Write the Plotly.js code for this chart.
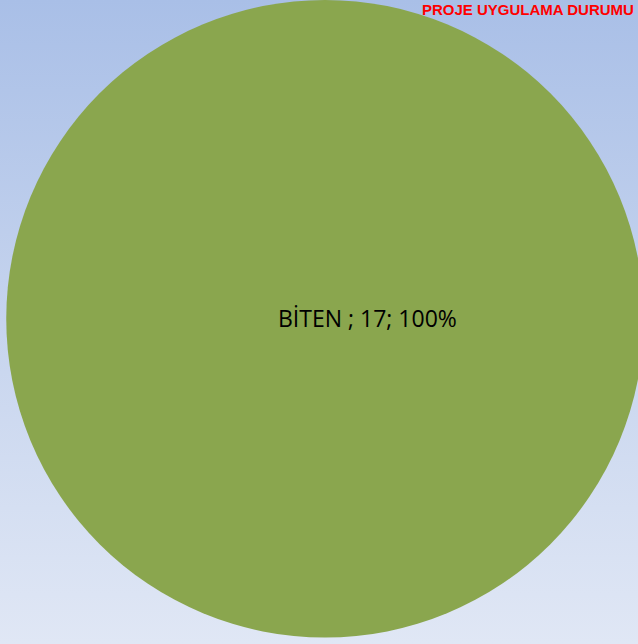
<!DOCTYPE html>
<html><head><meta charset="utf-8">
<script src="https://cdn.plot.ly/plotly-3.0.1.min.js"></script>
<style>
html,body{margin:0;padding:0;width:638px;height:644px;overflow:hidden;}
body{background:linear-gradient(to bottom,#a9bfe7 0%,#c6d4ee 50%,#e0e7f5 100%);}
#chart{width:644px;height:644px;}
</style></head>
<body><div id="chart"></div>
<script>
const labels = ["BİTEN "];
const values = [17];
const colors = ["#8aa64e"];
const titleText = "PROJE UYGULAMA DURUMU";

const total = values.reduce((a,b)=>a+b,0);
const labelText = labels[0] + "; " + values[0] + "; " + Math.round(values[0]/total*100) + "%";

const W = 644, H = 644;
const data = [{
  type: "pie",
  labels: labels,
  values: values,
  marker: {colors: colors, line: {width: 0}},
  textinfo: "none",
  hoverinfo: "label+value+percent",
  sort: false,
  domain: {x: [6/W, 1], y: [6.5/H, 1]},
  showlegend: false
}];

const layout = {
  width: W, height: H,
  margin: {l:0, r:0, t:0, b:0},
  paper_bgcolor: "rgba(0,0,0,0)",
  plot_bgcolor: "rgba(0,0,0,0)",
  showlegend: false,
  annotations: [
    {text: labelText, x: 367/W, y: 1 - 318/H, xref: "paper", yref: "paper",
     xanchor: "center", yanchor: "middle", showarrow: false,
     font: {family: "Open Sans, sans-serif", size: 23, color: "#000000"}},
    {text: "<b>" + titleText + "</b>", x: 636/W, y: 1, xref: "paper", yref: "paper",
     xanchor: "right", yanchor: "top", yshift: 1, showarrow: false,
     font: {family: "Liberation Sans, sans-serif", size: 15, color: "#ff0000"}}
  ]
};
Plotly.newPlot("chart", data, layout, {displayModeBar: false, staticPlot: true});
</script></body></html>
